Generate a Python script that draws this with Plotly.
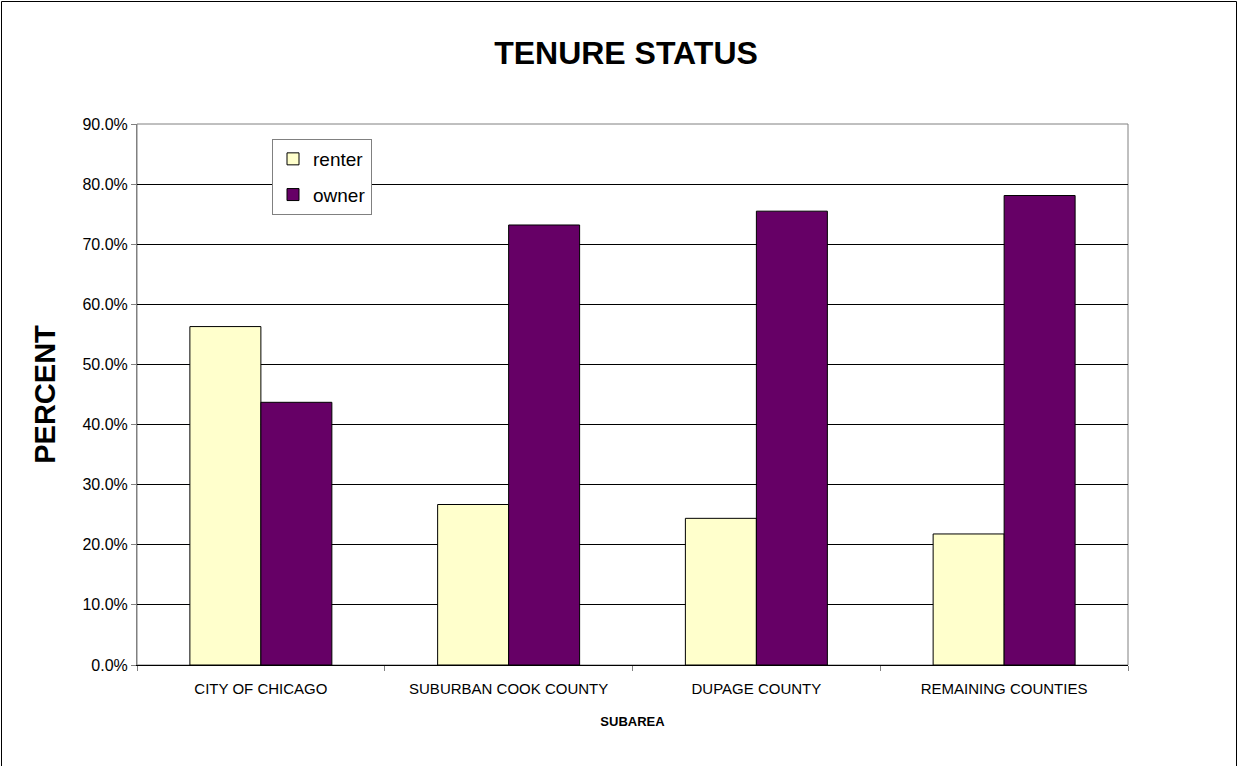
import plotly.graph_objects as go

# donnees
subareas = ["CITY OF CHICAGO", "SUBURBAN COOK COUNTY", "DUPAGE COUNTY", "REMAINING COUNTIES"]
renter = [0.563, 0.267, 0.244, 0.218]
owner = [0.437, 0.732, 0.755, 0.781]

W, H = 1238, 766
L, R, T, B = 137, 1128, 124, 665  # zone de trace en pixels

fig = go.Figure()
fig.add_trace(go.Bar(x=subareas, y=renter, name="renter", legendgroup="r",
                     marker=dict(color="#FFFFCC", line=dict(color="black", width=1))))
fig.add_trace(go.Bar(x=subareas, y=owner, name="owner", legendgroup="o",
                     marker=dict(color="#660066", line=dict(color="black", width=1))))

font = "Liberation Sans, Arial, sans-serif"

fig.update_layout(
    width=W, height=H,
    margin=dict(l=L, r=W - R, t=T, b=H - B, autoexpand=False),
    paper_bgcolor="white", plot_bgcolor="white",
    font=dict(family=font, color="black"),
    barmode="group", bargap=0.427, bargroupgap=0,
    title=dict(text="<b>TENURE STATUS</b>", font=dict(size=32, color="black"),
               x=626 / W, xref="container", xanchor="center",
               y=1 - 53 / H, yref="container", yanchor="middle"),
    legend=dict(x=(272 - L) / (R - L), y=(B - 139) / (B - T), xanchor="left", yanchor="top",
                bordercolor="#808080", borderwidth=1, bgcolor="white",
                font=dict(size=19), tracegroupgap=8, itemwidth=30),
    showlegend=True,
)

fig.update_xaxes(
    showline=True, linecolor="black", linewidth=1,
    ticks="outside", tickson="boundaries", ticklen=5, tickcolor="#808080",
    tickfont=dict(size=15), showgrid=False, ticklabelstandoff=10,
    title=dict(text="<b>SUBAREA</b>", font=dict(size=13), standoff=20),
)
fig.update_yaxes(
    range=[0, 0.9], dtick=0.1, tickformat=".1%",
    showline=True, linecolor="#808080", linewidth=1,
    ticks="outside", ticklen=5, tickcolor="#808080",
    tickfont=dict(size=16),
    showgrid=True, gridcolor="black", gridwidth=1, zeroline=False,
    title=dict(text="<b>PERCENT</b>", font=dict(size=29), standoff=18),
)

# bordure grise de la zone de trace
fig.add_shape(type="rect", xref="paper", yref="paper", x0=0, x1=1, y0=0, y1=1,
              line=dict(color="#808080", width=1), layer="below")
# cadre du graphique
fig.add_shape(type="rect", xref="paper", yref="paper",
              x0=(1.5 - L) / (R - L), x1=(1236.5 - L) / (R - L),
              y0=(B - 780) / (B - T), y1=(B - 1.5) / (B - T),
              line=dict(color="black", width=1), layer="below")

fig.write_html("out.html", config={"displayModeBar": False},
               post_script="document.body.style.margin='0';")
